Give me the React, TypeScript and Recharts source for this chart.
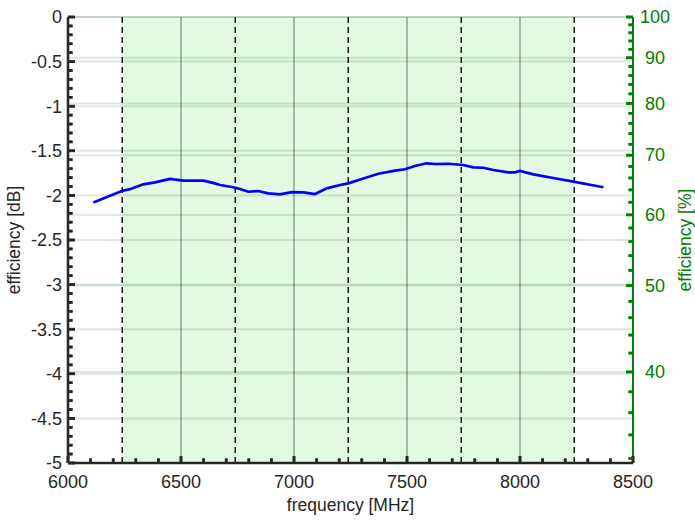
import React from "react";
import { ComposedChart, Line, XAxis, YAxis, ReferenceArea, ReferenceLine } from "recharts";

const freqMHz = [
  6112, 6238, 6274, 6333, 6385, 6451, 6510, 6599, 6650, 6673, 6731, 6761, 6798, 6842,
  6886, 6938, 6990, 7041, 7093, 7145, 7204, 7240, 7300, 7373, 7447, 7491, 7535, 7587,
  7624, 7683, 7749, 7793, 7838, 7882, 7948, 7978, 8000, 8059, 8147, 8236, 8369,
];
const efficiencyDb = [
  -2.08, -1.95, -1.93, -1.876, -1.854, -1.816, -1.835, -1.835, -1.865, -1.883, -1.909,
  -1.928, -1.959, -1.951, -1.977, -1.989, -1.963, -1.966, -1.985, -1.921, -1.883, -1.865,
  -1.816, -1.757, -1.723, -1.707, -1.67, -1.64, -1.648, -1.645, -1.659, -1.685, -1.69,
  -1.715, -1.741, -1.741, -1.726, -1.764, -1.805, -1.846, -1.909,
];

const freqTicks = [6000, 6500, 7000, 7500, 8000, 8500];
const freqGrid = [6500, 7000, 7500, 8000];
const bandEdges = [6240, 6740, 7240, 7740, 8240];
const dbTicks = [0, -0.5, -1, -1.5, -2, -2.5, -3, -3.5, -4, -4.5, -5];
const pctTicks = [100, 90, 80, 70, 60, 50, 40];

// minor tick positions
const range = (n: number, fn: (i: number) => number) => Array.from({ length: n }, (_, i) => fn(i));
const freqMinor = range(26, (i) => 6000 + i * 100);
const dbMinor = range(51, (i) => -i / 10);
const pctMinor = range(35, (i) => 32 + i * 2);

const toDb = (p: number) => 10 * Math.log10(p / 100);
const toPct = (db: number) => Math.round(100 * Math.pow(10, db / 10));

const data = freqMHz.map((f, i) => ({ f, db: efficiencyDb[i] }));

const FONT = "'Liberation Sans', Arial, Helvetica, sans-serif";
const INK = "#262626";
const GREEN = "#008000";
const DOMAIN: [number, number] = [-5, 0];
const FDOMAIN: [number, number] = [6000, 8500];

// inward tick lengths in axis units (~7px major / ~4.5px minor)
const TICK_F = { major: 31, minor: 20 };
const TICK_DB = { major: 0.078, minor: 0.05 };
const TICK_W = 2.6;

const isMajorDb = (v: number) => dbTicks.some((t) => Math.abs(t - v) < 1e-6);

const LeftTick = ({ x, y, payload }: any) => {
  const major = isMajorDb(payload.value);
  const x0 = Number(x);
  const y0 = Number(y);
  return (
    <g>
      <path d={`M${x0},${y0}h${major ? 7 : 4.5}`} stroke={INK} strokeWidth={TICK_W} fill="none" />
      {major && (
        <text x={x0 - 6} y={y0} dy="0.35em" textAnchor="end" fill={INK} fontSize={18} fontFamily={FONT}>
          {payload.value}
        </text>
      )}
    </g>
  );
};

const RightTick = ({ x, y, payload }: any) => {
  const pct = toPct(payload.value);
  const major = pctTicks.includes(pct);
  const x0 = Number(x);
  const y0 = Number(y);
  return (
    <g>
      <path d={`M${x0},${y0}h${major ? -7 : -4.5}`} stroke={GREEN} strokeWidth={TICK_W} fill="none" />
      {major && (
        <text x={x0 + 22} y={y0} dy="0.35em" textAnchor="middle" fill={GREEN} fontSize={18} fontFamily={FONT}>
          {pct}
        </text>
      )}
    </g>
  );
};

const BottomTick = ({ x, y, payload }: any) => {
  const major = freqTicks.includes(payload.value);
  const x0 = Number(x);
  const y0 = Number(y);
  return (
    <g>
      <path d={`M${x0},${y0}v${major ? -7 : -4.5}`} stroke={INK} strokeWidth={TICK_W} fill="none" />
      {major && (
        <text x={x0} y={y0 + 12} dy="0.71em" textAnchor="middle" fill={INK} fontSize={18} fontFamily={FONT}>
          {payload.value}
        </text>
      )}
    </g>
  );
};

export default function App() {
  return (
    <div style={{ position: "absolute", left: 0, top: 0, background: "#fff", fontFamily: FONT }}>
      <ComposedChart width={695} height={521} data={data} margin={{ top: 17, right: 8, bottom: 8, left: 8 }}>
        <ReferenceArea xAxisId="x" yAxisId="y" x1={bandEdges[0]} x2={bandEdges[bandEdges.length - 1]}
          fill="#e1fae1" fillOpacity={1} stroke="none" />
        {dbTicks.map((v) => (
          <ReferenceLine key={`h${v}`} xAxisId="x" yAxisId="y" y={v} stroke="#000" strokeOpacity={0.11} strokeWidth={2} />
        ))}
        {pctTicks.map((p) => (
          <ReferenceLine key={`p${p}`} xAxisId="x" yAxisId="y" y={toDb(p)} stroke={GREEN} strokeOpacity={0.15} strokeWidth={2} />
        ))}
        {freqGrid.map((f) => (
          <ReferenceLine key={`g${f}`} xAxisId="x" yAxisId="y" x={f} stroke="#000" strokeOpacity={0.26} strokeWidth={2} />
        ))}
        {bandEdges.map((f) => (
          <ReferenceLine key={`b${f}`} xAxisId="x" yAxisId="y" x={f} stroke="#1a1a1a" strokeWidth={1.5} strokeDasharray="6 4" />
        ))}
        <Line xAxisId="x" yAxisId="y" type="linear" dataKey="db" stroke="#0000ff" strokeWidth={2.7}
          dot={false} isAnimationActive={false} />

        {/* inward tick marks */}
        {dbMinor.map((v) => (
          <ReferenceLine key={`lt${v}`} xAxisId="x" yAxisId="y" ifOverflow="visible" stroke={INK} strokeWidth={TICK_W}
            segment={[{ x: FDOMAIN[0], y: v }, { x: FDOMAIN[0] + (isMajorDb(v) ? TICK_F.major : TICK_F.minor), y: v }]} />
        ))}
        {pctMinor.map((p) => (
          <ReferenceLine key={`rt${p}`} xAxisId="x" yAxisId="y" ifOverflow="visible" stroke={GREEN} strokeWidth={TICK_W}
            segment={[{ x: FDOMAIN[1] - (pctTicks.includes(p) ? TICK_F.major : TICK_F.minor), y: toDb(p) },
              { x: FDOMAIN[1], y: toDb(p) }]} />
        ))}
        {freqMinor.map((f) => (
          <ReferenceLine key={`bt${f}`} xAxisId="x" yAxisId="y" ifOverflow="visible" stroke={INK} strokeWidth={TICK_W}
            segment={[{ x: f, y: DOMAIN[0] }, { x: f, y: DOMAIN[0] + (freqTicks.includes(f) ? TICK_DB.major : TICK_DB.minor) }]} />
        ))}

        <XAxis xAxisId="x" type="number" dataKey="f" domain={FDOMAIN} allowDataOverflow ticks={freqMinor} interval={0}
          height={50} tickSize={0} tickMargin={0} tickLine={false} tick={<BottomTick />}
          axisLine={{ stroke: INK, strokeWidth: 2.5 }}
          label={{ value: "frequency [MHz]", position: "insideBottom", offset: 2, fill: INK, fontSize: 17.5, fontFamily: FONT }} />

        <YAxis yAxisId="y" type="number" domain={DOMAIN} allowDataOverflow ticks={dbMinor} interval={0} width={60}
          tickSize={0} tickMargin={0} tickLine={false} tick={<LeftTick />} axisLine={{ stroke: INK, strokeWidth: 2.5 }}
          label={{ value: "efficiency [dB]", angle: -90, position: "insideLeft", offset: 6, fill: INK, fontSize: 17.5,
            fontFamily: FONT, style: { textAnchor: "middle" } }} />

        <YAxis yAxisId="r" orientation="right" type="number" domain={DOMAIN} allowDataOverflow ticks={pctMinor.map(toDb)}
          interval={0} width={54} tickSize={0} tickMargin={0} tickLine={false} tick={<RightTick />}
          axisLine={{ stroke: GREEN, strokeWidth: 2 }}
          label={{ value: "efficiency [%]", angle: -90, position: "insideRight", offset: 2, fill: GREEN, fontSize: 17.5,
            fontFamily: FONT, style: { textAnchor: "middle" } }} />
      </ComposedChart>
    </div>
  );
}
